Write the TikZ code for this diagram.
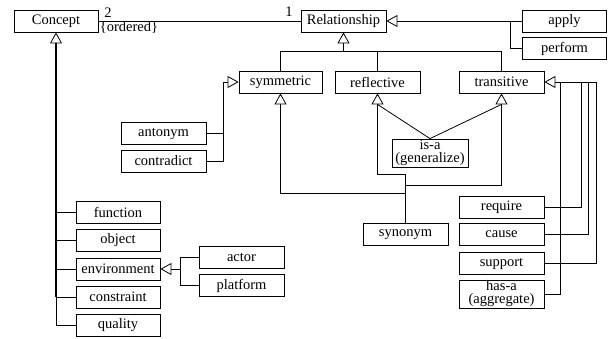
\documentclass[tikz,border=0pt]{standalone}
\usepackage{fontspec}
\setmainfont{Liberation Serif}
\newfontfamily\diagfont{Liberation Serif}
\usetikzlibrary{arrows.meta,calc}
\begin{document}
\begin{tikzpicture}[x=1pt,y=-1pt,
  every node/.style={font=\diagfont\fontsize{14.5}{13}\selectfont},
  box/.style={draw,line width=0.8pt,minimum width=85pt,minimum height=22pt,inner sep=0pt,anchor=center},
  conn/.style={line width=0.8pt},
  gen/.style={line width=0.8pt,-{Triangle[open,length=11pt,width=12pt]}},
  trunk/.style={line width=1.6pt}]
\useasboundingbox (0,0) rectangle (608,338);
% nodes
\node[box,minimum width=84pt] (concept) at (56,21) {Concept};
\node[box] (rel) at (343.5,21) {Relationship};
\node[box,minimum width=84pt] (apply) at (564.5,21) {apply};
\node[box,minimum width=84pt] (perform) at (564.5,48.5) {perform};
\node[box,minimum width=83pt] (sym) at (280.5,82) {symmetric};
\node[box] (refl) at (377.5,82) {reflective};
\node[box] (trans) at (501.5,82) {transitive};
\node[box] (antonym) at (163.5,133.5) {antonym};
\node[box] (contradict) at (163.5,161) {contradict};
\node[box,minimum width=76pt,minimum height=28pt,align=center] (isa) at (430,153) {is-a\\(generalize)};
\node[box] (synonym) at (405.5,234.5) {synonym};
\node[box] (require) at (501.5,207) {require};
\node[box] (cause) at (501.5,234.5) {cause};
\node[box] (support) at (501.5,263.5) {support};
\node[box,minimum height=28pt,align=center] (hasa) at (501.5,294) {has-a\\(aggregate)};
\node[box,minimum width=84pt] (function) at (118,212) {function};
\node[box,minimum width=84pt] (object) at (118,240.5) {object};
\node[box,minimum width=84pt] (environment) at (118,269) {environment};
\node[box,minimum width=84pt] (constraint) at (118,297) {constraint};
\node[box,minimum width=84pt] (quality) at (118,325.5) {quality};
\node[box] (actor) at (241.5,257.5) {actor};
\node[box] (platform) at (241.5,285.5) {platform};
% association
\draw[conn] (concept.east) -- (rel.west);
\node[inner sep=0pt] (m2) at (108,13) {2};
\node[inner sep=0pt] (ord) at (129,27) {\{ordered\}};
\node[inner sep=0pt] (m1) at (289,12) {1};
% apply / perform -> Relationship
\coordinate (j1) at (510,21);
\draw[gen] (apply.west) -- (rel.east);
\draw[conn] (perform.west) -| (j1);
% sym/refl/trans -> Relationship
\coordinate (j2) at (343.5,51);
\draw[gen] (j2) -- (rel.south);
\draw[conn] (sym.north) |- (trans.north |- j2) -- (trans.north);
\draw[conn] (refl.north) -- (refl.north |- j2);
% antonym/contradict -> symmetric
\coordinate (j3) at (223,82);
\draw[gen] (j3) -- (sym.west);
\draw[conn] (antonym.east) -| (j3);
\draw[conn] (contradict.east) -| (j3);
% is-a -> reflective, transitive
\coordinate (rb) at ([yshift=-11pt]refl.south);
\coordinate (tb) at ([yshift=-11pt]trans.south);
\draw[conn] (isa.north) -- (rb);
\draw[conn] (isa.north) -- (tb);
% synonym -> sym, refl, trans
\coordinate (s1) at (405.5,174);
\coordinate (s2) at (405.5,193);
\coordinate (s3) at (405.5,185);
\draw[gen] (synonym.north) -- (s1) -| (refl.south);
\draw[gen] (s2) -| (sym.south);
\draw[gen] (s3) -| (trans.south);
% transitive subclasses
\coordinate (tA) at (560,82);
\coordinate (tR) at (581,82);
\coordinate (tC) at (588,82);
\coordinate (tS) at (596,82);
\draw[gen] (tS) -- (trans.east);
\draw[conn] (require.east) -| (tR);
\draw[conn] (cause.east) -| (tC);
\draw[conn] (support.east) -| (tS);
\draw[conn] (hasa.east) -| (tA);
% Concept trunk
\coordinate (c0) at ([yshift=-11pt]concept.south);
\coordinate (c1) at (function.west -| concept.south);
\coordinate (c2) at (object.west -| concept.south);
\coordinate (c3) at (environment.west -| concept.south);
\coordinate (c4) at (constraint.west -| concept.south);
\coordinate (c5) at (quality.west -| concept.south);
\draw[gen] ([yshift=-0.5pt]c0) -- (concept.south);
\draw[trunk] (c0) -- (c4);
\draw[conn] (c4) -- (c5);
\draw[conn] (function.west) -- (c1);
\draw[conn] (object.west) -- (c2);
\draw[conn] (environment.west) -- (c3);
\draw[conn] (constraint.west) -- (c4);
\draw[conn] (quality.west) -- (c5);
% environment subclasses
\coordinate (e1) at (180,269);
\draw[gen] (e1) -- (environment.east);
\draw[conn] (actor.west) -| (e1);
\draw[conn] (platform.west) -| (e1);
\end{tikzpicture}
\end{document}
